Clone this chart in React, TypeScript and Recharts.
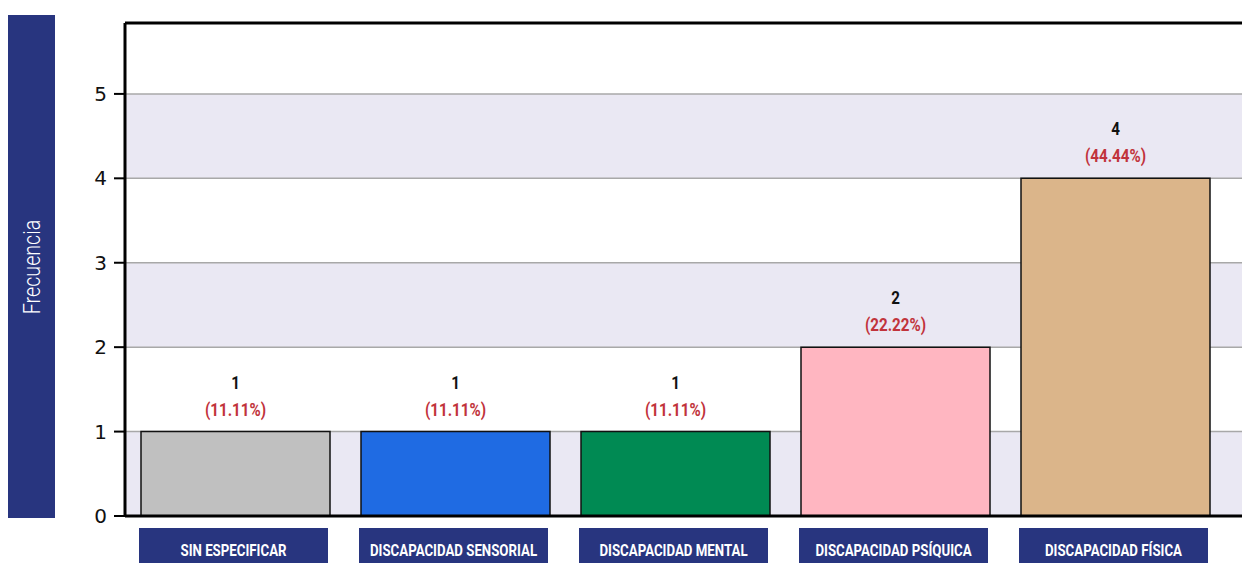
import { Bar, BarChart, CartesianGrid, Cell, LabelList, ReferenceLine, XAxis, YAxis } from 'recharts';

const categories = [
  'SIN ESPECIFICAR',
  'DISCAPACIDAD SENSORIAL',
  'DISCAPACIDAD MENTAL',
  'DISCAPACIDAD PSÍQUICA',
  'DISCAPACIDAD FÍSICA',
];
const frequencies = [1, 1, 1, 2, 4];
const barColors = ['#c0c0c0', '#1f6be3', '#008a53', '#ffb6c1', '#dbb58a'];
const yTicks = [0, 1, 2, 3, 4, 5];
const yMax = 5.84;

const total = frequencies.reduce((a, b) => a + b, 0);
const data = categories.map((name, i) => ({
  name,
  value: frequencies[i],
  pct: ((frequencies[i] / total) * 100).toFixed(2) + '%',
}));

const NAVY = '#28357f';
const FONT = "Roboto, 'Liberation Sans', sans-serif";

function CategoryTick(props: any) {
  const { x, y, payload } = props;
  const w = 189;
  return (
    <g>
      <rect x={x - w / 2 - 1.5} y={y + 12} width={w} height={50} fill={NAVY} />
      <text
        transform={`translate(${x - 1.5},${y + 40}) scale(0.78,1)`}
        textAnchor="middle"
        fill="#fff"
        fontFamily={FONT}
        fontWeight="bold"
        fontSize={17}
      >
        {payload.value}
      </text>
    </g>
  );
}

function ValueLabel(props: any) {
  const { x, y, width, index } = props;
  const cx = x + width / 2;
  const d = data[index];
  return (
    <g fontFamily={FONT} fontWeight="bold" fontSize={19} textAnchor="middle">
      <text transform={`translate(${cx},${y - 43}) scale(0.8,1)`} fill="#111">
        {d.value}
      </text>
      <text transform={`translate(${cx},${y - 16}) scale(0.8,1)`} fill="#c1333b">
        ({d.pct})
      </text>
    </g>
  );
}

function YTitle() {
  return (
    <g>
      <rect x={8} y={15} width={47} height={503} fill={NAVY} />
      <text
        transform="translate(32,267) rotate(-90) scale(0.82,1)"
        textAnchor="middle"
        dominantBaseline="central"
        fill="#fff"
        fontFamily={FONT}
        fontWeight={300}
        fontSize={24}
      >
        Frecuencia
      </text>
    </g>
  );
}

export default function App() {
  return (
    <div
      style={{
        position: 'absolute',
        left: 0,
        top: 0,
        width: 1242,
        height: 563,
        overflow: 'hidden',
        background: '#fff',
      }}
    >
      <BarChart
        width={1270}
        height={563}
        data={data}
        margin={{ top: 23, right: 0, left: 0, bottom: 0 }}
        barSize={189}
      >
        <CartesianGrid
          vertical={false}
          stroke="#a8a8a8"
          strokeWidth={1.5}
          horizontalFill={['#ffffff', '#eae8f3']}
          fillOpacity={1}
        />
        <XAxis
          dataKey="name"
          height={47}
          padding={{ left: 0, right: 45 }}
          axisLine={{ stroke: '#000', strokeWidth: 3 }}
          tickLine={false}
          tickSize={0}
          tickMargin={0}
          interval={0}
          tick={<CategoryTick />}
        />
        <YAxis
          width={125}
          domain={[0, yMax]}
          ticks={yTicks}
          allowDataOverflow
          axisLine={{ stroke: '#000', strokeWidth: 3 }}
          tickLine={{ stroke: '#000', strokeWidth: 2 }}
          tickSize={11}
          tickMargin={7}
          tick={{ fill: '#111', fontSize: 20, fontFamily: "'DejaVu Sans', sans-serif" }}
          label={<YTitle />}
        />
        <ReferenceLine y={yMax} stroke="#000" strokeWidth={3} />
        <Bar dataKey="value" stroke="#111" strokeWidth={1.5} isAnimationActive={false}>
          {data.map((d, i) => (
            <Cell key={d.name} fill={barColors[i]} />
          ))}
          <LabelList dataKey="value" content={<ValueLabel />} />
        </Bar>
      </BarChart>
    </div>
  );
}
